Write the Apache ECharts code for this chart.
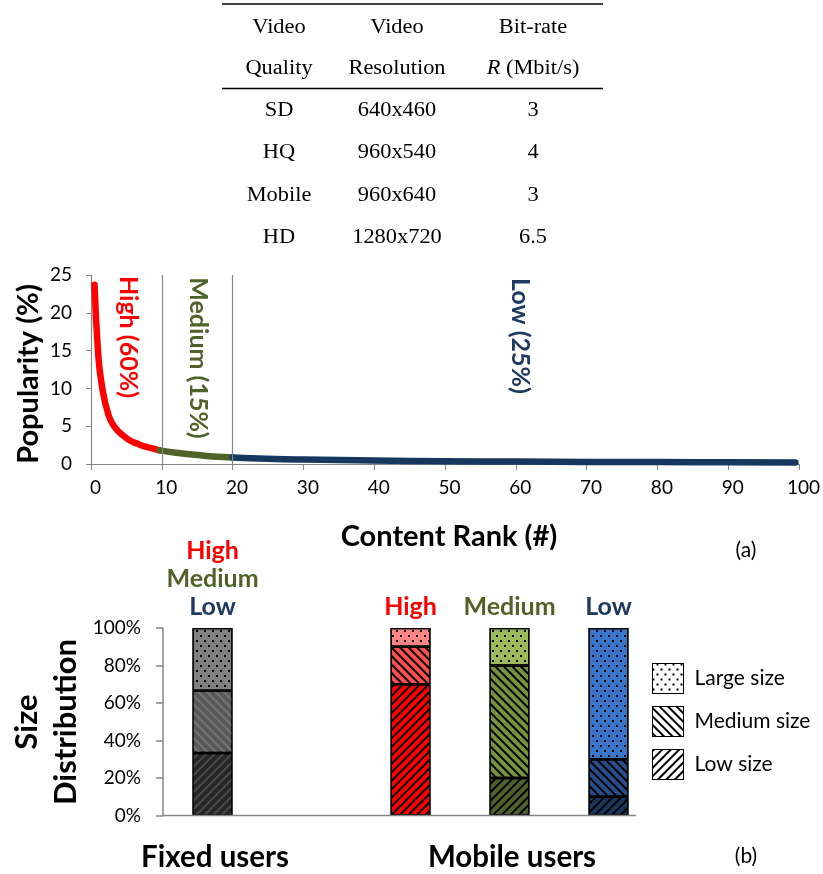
<!DOCTYPE html>
<html>
<head>
<meta charset="utf-8">
<script src="https://cdn.jsdelivr.net/npm/echarts@6/dist/echarts.min.js"></script>
<style>
  html, body { margin: 0; padding: 0; background: #fff; }
  #main { width: 823px; height: 874px; }
</style>
</head>
<body>
<div id="main"></div>
<script>
// ---- Table: video quality profiles ----
const tableHeader1 = ['Video', 'Video', 'Bit-rate'];
const tableHeader2 = ['Quality', 'Resolution', '{i|R} (Mbit/s)'];
const qualityNames = ['SD', 'HQ', 'Mobile', 'HD'];
const resolutions = ['640x460', '960x540', '960x640', '1280x720'];
const bitRates = ['3', '4', '3', '6.5'];

// ---- (a) popularity (%) vs content rank ----
const highRank = [0.5, 1.0, 1.5, 2.5, 3.5, 4.5, 5.5, 6.5, 7.5, 8.5, 9.7];
const highPop = [23.7, 14.8, 10.6, 6.4, 4.7, 3.8, 3.1, 2.7, 2.35, 2.1, 1.8];
const mediumRank = [9.7, 12, 14, 16, 18, 20];
const mediumPop = [1.8, 1.5, 1.28, 1.1, 0.97, 0.86];
const lowRank = [20, 25, 30, 40, 50, 60, 70, 80, 90, 99.5];
const lowPop = [0.86, 0.7, 0.6, 0.47, 0.37, 0.32, 0.28, 0.25, 0.22, 0.2];
const regionLabels = ['High (60%)', 'Medium (15%)', 'Low (25%)'];
const regionBounds = [10, 20];

// ---- (b) size distribution (%) per user group ----
const groups = ['Fixed', '', 'High', 'Medium', 'Low'];
const lowSizeShare = [33.3, null, 70, 20, 10];
const mediumSizeShare = [33.3, null, 20, 60, 20];
const largeSizeShare = [33.4, null, 10, 20, 70];
const sizeNames = ['Large size', 'Medium size', 'Low size'];

const groupColors = {
  Fixed:  { low: '#262626', medium: '#595959', large: '#808080', hatch: ['#4a4a4a', '#747474'] },
  High:   { low: '#FF0000', medium: '#FF4F4F', large: '#FF8585', hatch: ['#000', '#000'] },
  Medium: { low: '#4F6228', medium: '#77933C', large: '#9BBB59', hatch: ['#000', '#000'] },
  Low:    { low: '#17375E', medium: '#254F8A', large: '#3A76CC', hatch: ['#000', '#000'] }
};

const RED = '#FF0000', GREEN = '#4F6228', NAVY = '#1F3A60';
const SANS = 'Lato, "Open Sans", sans-serif';
const SERIF = '"Liberation Serif", "DejaVu Serif", serif';
const AXIS_GRAY = '#868686';

function dotDecal(color) {
  return { symbol: 'rect', symbolSize: 1, dashArrayX: [[1.5, 5.5], [0, 3.5, 1.5, 2]], dashArrayY: [1.5, 2.2], color: color || '#000' };
}
function lineDecal(rot, color) {
  return { symbol: 'rect', symbolSize: 1, dashArrayX: [1, 0], dashArrayY: [1.1, 3.2], rotation: rot, color: color || '#000' };
}
const RISING = -Math.PI / 4;   // "///" hatch
const FALLING = Math.PI / 4;   // "\\\" hatch

function pairs(xs, ys) { return xs.map((x, i) => [x, ys[i]]); }

function barData(values, key, decalFn) {
  return values.map((v, i) => {
    if (v == null) return '-';
    const g = groupColors[groups[i]];
    return { value: v, itemStyle: { color: g[key], decal: decalFn(g) } };
  });
}

const labelRich = {
  h: { color: RED, fontSize: 25, fontWeight: 'bold', fontFamily: SANS, lineHeight: 28 },
  m: { color: GREEN, fontSize: 25, fontWeight: 'bold', fontFamily: SANS, lineHeight: 28 },
  l: { color: NAVY, fontSize: 25, fontWeight: 'bold', fontFamily: SANS, lineHeight: 28 }
};
function groupLabel(p) {
  const name = groups[p.dataIndex];
  if (name === 'Fixed') return '{h|High}\n{m|Medium}\n{l|Low}';
  if (name === 'High') return '{h|High}';
  if (name === 'Medium') return '{m|Medium}';
  return '{l|Low}';
}

// table graphics
const colX = [279, 397, 533];
const rowY = [28, 69, 111, 153, 196, 238];
const tableText = [];
function cell(text, x, y) {
  tableText.push({
    type: 'text', x: x, y: y, scaleX: 1.12,
    style: {
      text: text, fill: '#000', font: '20px ' + SERIF, align: 'center', verticalAlign: 'middle',
      rich: { i: { fontStyle: 'italic', fontSize: 20, fontFamily: SERIF } }
    }
  });
}
tableHeader1.forEach((t, c) => cell(t, colX[c], rowY[0]));
tableHeader2.forEach((t, c) => cell(t, colX[c], rowY[1]));
qualityNames.forEach((q, r) => {
  cell(q, colX[0], rowY[r + 2]);
  cell(resolutions[r], colX[1], rowY[r + 2]);
  cell(bitRates[r], colX[2], rowY[r + 2]);
});

// text rotated to read top-to-bottom (dir = -1) or bottom-to-top (dir = 1)
function vText(text, x, y, color, size, dir) {
  return {
    type: 'text', x: x, y: y, rotation: dir * Math.PI / 2,
    style: { text: text, fill: color, font: 'bold ' + size + 'px ' + SANS, align: 'center', verticalAlign: 'middle' }
  };
}
function hText(text, x, y, size, bold) {
  return {
    type: 'text', x: x, y: y,
    style: { text: text, fill: '#000', font: (bold ? 'bold ' : '') + size + 'px ' + SANS, align: 'center', verticalAlign: 'middle' }
  };
}

const chart = echarts.init(document.getElementById('main'), null, { renderer: 'canvas' });

const barSeries = (name, values, key, decalFn, extra) => Object.assign({
  name: name, type: 'bar', xAxisIndex: 1, yAxisIndex: 1, stack: 'size', barWidth: 40,
  itemStyle: { color: '#fff', borderColor: '#000', borderWidth: 1.2, decal: decalFn({ hatch: ['#000', '#000'] }) },
  data: barData(values, key, decalFn)
}, extra || {});

const option = {
  backgroundColor: '#fff',
  animation: false,
  grid: [
    { left: 91, top: 275, width: 710, height: 189 },
    { left: 163, top: 628, width: 495, height: 187.5 }
  ],
  xAxis: [
    {
      gridIndex: 0, type: 'value', min: 0, max: 100, interval: 10,
      axisLine: { lineStyle: { color: AXIS_GRAY, width: 1.2 } },
      axisTick: { show: true, length: 6, lineStyle: { color: AXIS_GRAY } },
      splitLine: { show: false },
      axisLabel: { color: '#000', fontSize: 19, fontFamily: SANS, margin: 14, padding: [0, 0, 0, 9] }
    },
    {
      gridIndex: 1, type: 'category', data: groups,
      axisLine: { show: false }, axisTick: { show: false }, axisLabel: { show: false }, splitLine: { show: false }
    }
  ],
  yAxis: [
    {
      gridIndex: 0, type: 'value', min: 0, max: 25, interval: 5,
      axisLine: { show: true, lineStyle: { color: AXIS_GRAY, width: 1.2 } },
      axisTick: { show: true, length: 5, lineStyle: { color: AXIS_GRAY } },
      splitLine: { show: false },
      axisLabel: { color: '#000', fontSize: 19, fontFamily: SANS, margin: 19 }
    },
    {
      gridIndex: 1, type: 'value', min: 0, max: 100, interval: 20,
      axisLine: { show: true, lineStyle: { color: AXIS_GRAY, width: 1.5 } },
      axisTick: { show: true, length: 7, lineStyle: { color: AXIS_GRAY, width: 1.5 } },
      splitLine: { show: false },
      axisLabel: { color: '#000', fontSize: 19, fontFamily: SANS, margin: 22, formatter: '{value}%' }
    }
  ],
  legend: {
    orient: 'vertical', left: 647, top: 658,
    itemWidth: 31, itemHeight: 30, itemGap: 12,
    data: sizeNames,
    icon: 'rect',
    itemStyle: { borderColor: '#000', borderWidth: 1 },
    textStyle: { color: '#000', fontSize: 21, fontFamily: SANS, padding: [0, 0, 0, 6] }
  },
  series: [
    {
      name: 'popularity-high', type: 'line', xAxisIndex: 0, yAxisIndex: 0,
      data: pairs(highRank, highPop), smooth: 0.5, showSymbol: false,
      lineStyle: { color: RED, width: 6.5, cap: 'round', join: 'round' },
      markLine: {
        silent: true, symbol: 'none', label: { show: false },
        lineStyle: { color: AXIS_GRAY, width: 1.2, type: 'solid' },
        data: regionBounds.map(b => ({ xAxis: b }))
      },
      z: 3
    },
    {
      name: 'popularity-medium', type: 'line', xAxisIndex: 0, yAxisIndex: 0,
      data: pairs(mediumRank, mediumPop), smooth: 0.5, showSymbol: false,
      lineStyle: { color: GREEN, width: 6.5, cap: 'round', join: 'round' }, z: 3
    },
    {
      name: 'popularity-low', type: 'line', xAxisIndex: 0, yAxisIndex: 0,
      data: pairs(lowRank, lowPop), smooth: 0.5, showSymbol: false,
      lineStyle: { color: '#17375E', width: 6.5, cap: 'round', join: 'round' }, z: 3
    },
    barSeries('Low size', lowSizeShare, 'low', g => lineDecal(RISING, g.hatch[0])),
    barSeries('Medium size', mediumSizeShare, 'medium', g => lineDecal(FALLING, g.hatch[1])),
    barSeries('Large size', largeSizeShare, 'large', () => dotDecal(), {
      label: { show: true, position: 'top', distance: 7, formatter: groupLabel, rich: labelRich, align: 'center' }
    })
  ],
  graphic: [
    { type: 'line', shape: { x1: 222, y1: 4, x2: 603, y2: 4 }, style: { stroke: '#000', lineWidth: 1.4 } },
    { type: 'line', shape: { x1: 222, y1: 88.5, x2: 603, y2: 88.5 }, style: { stroke: '#000', lineWidth: 1.4 } },
    // baseline of the size-distribution panel
    { type: 'line', z: 10, shape: { x1: 163, y1: 815.5, x2: 636, y2: 815.5 }, style: { stroke: AXIS_GRAY, lineWidth: 1.5 } },
    ...tableText,
    vText(regionLabels[0], 128, 337, RED, 25, -1),
    vText(regionLabels[1], 198, 358, GREEN, 25, -1),
    vText(regionLabels[2], 520, 336, NAVY, 25, -1),
    vText('Popularity (%)', 29, 374, '#000', 29, 1),
    hText('Content Rank (#)', 449, 537, 29, true),
    hText('(a)', 746, 550, 21, false),
    vText('Size', 27, 722, '#000', 31, 1),
    vText('Distribution', 66, 722, '#000', 31, 1),
    hText('Fixed users', 215, 857, 29.5, true),
    hText('Mobile users', 512, 857, 29.5, true),
    hText('(b)', 746, 856, 21, false)
  ]
};

chart.setOption(option);
</script>
</body>
</html>
